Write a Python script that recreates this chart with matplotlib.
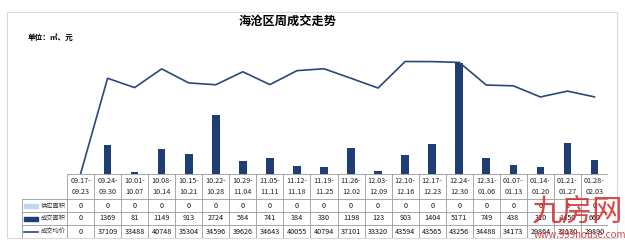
import matplotlib.pyplot as plt
from matplotlib.patches import Rectangle
from matplotlib.lines import Line2D

plt.rcParams['font.family'] = ['Noto Sans CJK SC', 'DejaVu Sans']

# data
weeks = ['09.17-\n09.23', '09.24-\n09.30', '10.01-\n10.07', '10.08-\n10.14', '10.15-\n10.21',
         '10.22-\n10.28', '10.29-\n11.04', '11.05-\n11.11', '11.12-\n11.18', '11.19-\n11.25',
         '11.26-\n12.02', '12.03-\n12.09', '12.10-\n12.16', '12.17-\n12.23', '12.24-\n12.30',
         '12.31-\n01.06', '01.07-\n01.13', '01.14-\n01.20', '01.21-\n01.27', '01.28-\n02.03']
supply = [0] * 20
area = [0, 1369, 81, 1149, 913, 2724, 584, 741, 384, 330,
        1198, 123, 903, 1404, 5171, 749, 438, 310, 1450, 660]
price = [0, 37109, 33488, 40748, 35304, 34596, 39626, 34643, 40055, 40794,
         37101, 33320, 43594, 43565, 43256, 34488, 34173, 29864, 32130, 29890]
row_names = ['供应面积', '成交面积', '成交均价']

bar_c = '#1f3f74'
line_c = '#2a4877'
light_c = '#c6d6ea'

W, H = 625, 246
fig = plt.figure(figsize=(W / 100, H / 100), dpi=100)

def box(x0, y0, x1, y1):
    # pixel box (top-left origin) -> figure fraction
    return [x0 / W, 1 - y1 / H, (x1 - x0) / W, (y1 - y0) / H]

# outer frame
fig.patches.append(Rectangle((7 / W, 1 - 238 / H), 610 / W, 226 / H,
                             transform=fig.transFigure, fill=False,
                             edgecolor='#d9d9d9', linewidth=0.8))

fig.text(288 / W, 1 - 21 / H, '海沧区周成交走势', ha='center', va='center',
         fontsize=8.8, fontweight='bold')
fig.text(28 / W, 1 - 37 / H, '单位：㎡、元', ha='left', va='center',
         fontsize=5.5, fontweight='bold')

x = list(range(len(weeks)))

ax = fig.add_axes(box(67, 45, 608, 174))
ax.bar(x, area, width=0.28, color=bar_c)
ax.set_xlim(-0.5, len(weeks) - 0.5)
ax.set_ylim(0, 6000)
ax.axis('off')

ax2 = ax.twinx()
ax2.plot(x, price, color=line_c, linewidth=1.2)
ax2.set_ylim(0, 50000)
ax2.axis('off')

# table below the plot
colw = 541 / 20
lab_w = (67 - 22) / colw
tab = fig.add_axes(box(22, 174, 608, 238))
tab.set_xlim(-0.5 - lab_w, len(weeks) - 0.5)
tab.set_ylim(0, 64)
tab.axis('off')

grid_c = '#9a9a9a'
lw = 0.6
# horizontal lines
tab.plot([-0.5, 19.5], [64, 64], color=grid_c, lw=lw)
for yy in [39, 26, 13, 0]:
    tab.plot([-0.5 - lab_w, 19.5], [yy, yy], color=grid_c, lw=lw)
# vertical lines
for i in range(21):
    tab.plot([i - 0.5, i - 0.5], [0, 64], color=grid_c, lw=lw)
tab.plot([-0.5 - lab_w] * 2, [0, 39], color=grid_c, lw=lw)

for i, wk in enumerate(weeks):
    tab.text(i, 51.5, wk, ha='center', va='center', fontsize=5.2,
             linespacing=1.6, color='#222222')
rows = [supply, area, price]
kx0 = -0.5 - lab_w + 0.08
for r, vals in enumerate(rows):
    yc = 32.5 - 13 * r
    for i, v in enumerate(vals):
        tab.text(i, yc, str(v), ha='center', va='center', fontsize=5.2,
                 color='#111111')
    tab.text(kx0 + 0.62, yc, row_names[r], ha='left', va='center',
             fontsize=4.5, color='#333333')

# legend keys in the label column
tab.add_patch(Rectangle((kx0, 30.5), 0.5, 4, color=light_c))
tab.add_patch(Rectangle((kx0, 17.5), 0.5, 4, color=bar_c))
tab.add_line(Line2D([kx0, kx0 + 0.5], [6.5, 6.5], color=line_c, lw=1.2))

# watermark
fig.text(578 / W, 1 - 212 / H, '九房网', ha='center', va='center',
         fontsize=22, color='#d42a2a', alpha=0.85)
fig.text(580 / W, 1 - 235 / H, 'www.999house.com', ha='center', va='center',
         fontsize=7, color='#d42a2a', alpha=0.85)

fig.savefig('out.png', dpi=100)
